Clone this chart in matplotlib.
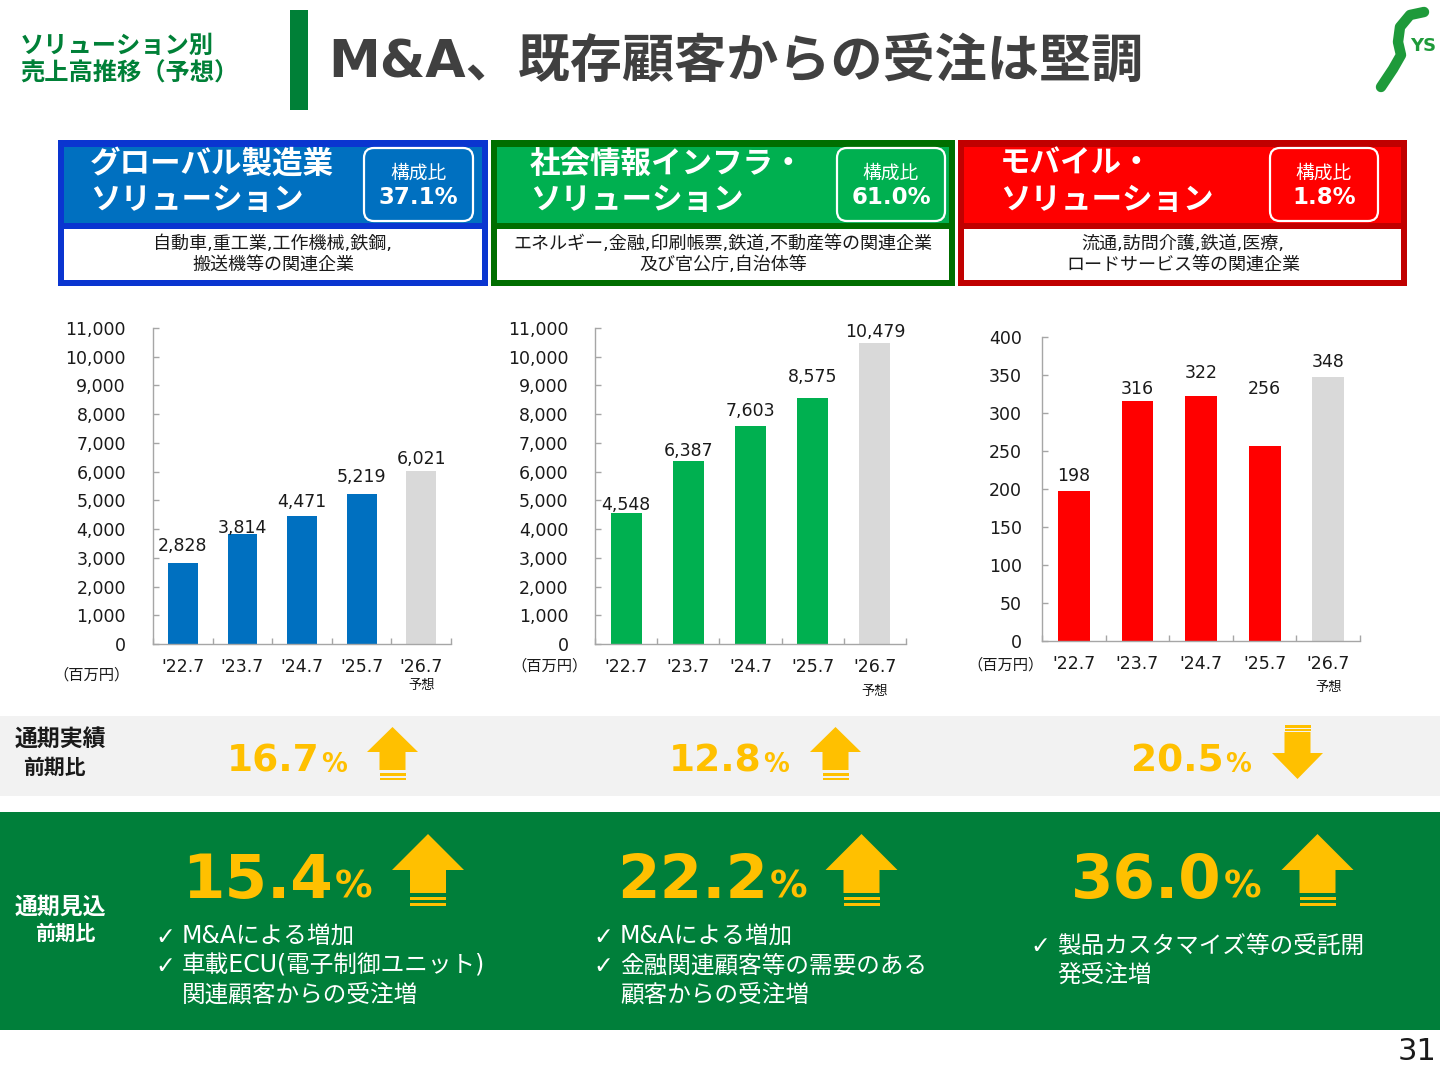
import numpy as np
import matplotlib
matplotlib.use('Agg')
import matplotlib.pyplot as plt
from matplotlib.patches import Rectangle, FancyBboxPatch, Polygon, PathPatch
from matplotlib.path import Path
from matplotlib.ticker import FuncFormatter

plt.rcParams['font.family'] = ['DejaVu Sans', 'Noto Sans CJK JP']

# ---- data -------------------------------------------------------------
years = ["'22.7", "'23.7", "'24.7", "'25.7", "'26.7"]
forecast_note = '予想'
unit_label = '（百万円）'

global_sales = [2828, 3814, 4471, 5219, 6021]
social_sales = [4548, 6387, 7603, 8575, 10479]
mobile_sales = [198, 316, 322, 256, 348]

segment_titles = [['グローバル製造業', 'ソリューション'],
                  ['社会情報インフラ・', 'ソリューション'],
                  ['モバイル・', 'ソリューション']]
segment_shares = ['37.1%', '61.0%', '1.8%']
segment_desc = [['自動車,重工業,工作機械,鉄鋼,', '搬送機等の関連企業'],
                ['エネルギー,金融,印刷帳票,鉄道,不動産等の関連企業', '及び官公庁,自治体等'],
                ['流通,訪問介護,鉄道,医療,', 'ロードサービス等の関連企業']]

actual_growth = ['16.7', '12.8', '20.5']
actual_dir = ['up', 'up', 'down']
plan_growth = ['15.4', '22.2', '36.0']
plan_notes = [[('✓', 'M&Aによる増加'), ('✓', '車載ECU(電子制御ユニット)'), ('', '関連顧客からの受注増')],
              [('✓', 'M&Aによる増加'), ('✓', '金融関連顧客等の需要のある'), ('', '顧客からの受注増')],
              [('✓', '製品カスタマイズ等の受託開'), ('', '発受注増')]]

# ---- style ------------------------------------------------------------
W, H = 1440, 1080
GREEN = '#008037'
BAND_GREEN = '#007f3a'
GOLD = '#ffc000'
FORECAST = '#d9d9d9'
AXIS = '#a6a6a6'
TXT = '#1a1a1a'

fig = plt.figure(figsize=(W / 100, H / 100), dpi=100)
ov = fig.add_axes([0, 0, 1, 1])
ov.set_xlim(0, W)
ov.set_ylim(H, 0)
ov.axis('off')

# ---- page header ------------------------------------------------------
ov.text(20, 46, 'ソリューション別', fontsize=17.5, fontweight='bold', color=GREEN, va='center')
ov.text(20, 74, '売上高推移（予想）', fontsize=17.5, fontweight='bold', color=GREEN, va='center')
ov.add_patch(Rectangle((290, 10), 18, 100, fc=GREEN, ec='none'))
ov.text(328, 63, 'M&A、既存顧客からの受注は堅調', fontsize=37.5, fontweight='bold',
        color='#404040', va='center')

# logo
logo = Path([(1424, 12), (1410, 15), (1400, 27), (1398, 42), (1401, 55), (1393, 69), (1381, 87)])
ov.add_patch(PathPatch(logo, fc='none', ec='#1e9a3a', lw=7.5, capstyle='round', joinstyle='round'))
ov.text(1410, 46, 'YS', fontsize=13, fontweight='bold', color='#1e9a3a', va='center')

# ---- segment boxes ----------------------------------------------------
boxes = [  # x0, x1, fill, border, title_x, share box x0, x1, desc centre
    (58, 488, '#0070c0', '#0a35d0', 90, 364, 473, 273),
    (491, 955, '#00b050', '#006e00', 530, 837, 945, 723),
    (958, 1407, '#ff0000', '#c00000', 1000, 1270, 1378, 1183),
]
for i, (x0, x1, fill, border, tx, bx0, bx1, dc) in enumerate(boxes):
    ov.add_patch(Rectangle((x0, 140), x1 - x0, 146, fc=border, ec='none'))
    ov.add_patch(Rectangle((x0 + 6, 147), x1 - x0 - 12, 76, fc=fill, ec='none'))
    ov.add_patch(Rectangle((x0 + 6, 229), x1 - x0 - 12, 51, fc='white', ec='none'))
    ov.text(tx, 164, segment_titles[i][0], fontsize=22, fontweight='bold', color='white', va='center')
    ov.text(tx, 201, segment_titles[i][1], fontsize=22, fontweight='bold', color='white', va='center')
    ov.add_patch(FancyBboxPatch((bx0 + 10, 158), bx1 - bx0 - 20, 53,
                                boxstyle='round,pad=10', fc=fill, ec='white', lw=1.6))
    cx = (bx0 + bx1) / 2
    ov.text(cx, 173, '構成比', fontsize=13.5, color='white', ha='center', va='center')
    ov.text(cx, 198, segment_shares[i], fontsize=16.5, fontweight='bold', color='white',
            ha='center', va='center')
    ov.text(dc, 244, segment_desc[i][0], fontsize=13, color=TXT, ha='center', va='center')
    ov.text(dc, 265, segment_desc[i][1], fontsize=13, color=TXT, ha='center', va='center')


# ---- bar panels -------------------------------------------------------
def bar_panel(rect, values, color, ymax, ystep, ypad, lift_px, note_px, unit_xy):
    x0, y0, x1, y1 = rect
    ax = fig.add_axes([x0 / W, 1 - y1 / H, (x1 - x0) / W, (y1 - y0) / H])
    ax.patch.set_alpha(0)
    x = np.arange(len(years))
    colors = [color] * (len(values) - 1) + [FORECAST]
    ax.bar(x, values, width=0.5, color=colors, zorder=2)
    ax.set_xlim(-0.5, len(years) - 0.5)
    ax.set_ylim(0, ymax)
    ax.set_yticks(np.arange(0, ymax + 1, ystep))
    ax.yaxis.set_major_formatter(FuncFormatter(lambda v, p: f'{v:,.0f}'))
    ax.set_xticks(x)
    ax.set_xticklabels(years)
    ax.set_xticks(np.arange(-0.5, len(years)), minor=True)
    for s in ('top', 'right'):
        ax.spines[s].set_visible(False)
    for s in ('left', 'bottom'):
        ax.spines[s].set_color(AXIS)
        ax.spines[s].set_linewidth(1.0)
    ax.tick_params(axis='y', direction='in', length=4, width=1, color=AXIS,
                   labelsize=12.5, labelcolor=TXT, pad=ypad)
    ax.tick_params(axis='x', which='major', length=0, labelsize=12.5, labelcolor=TXT, pad=10)
    ax.tick_params(axis='x', which='minor', direction='in', length=4, width=1, color=AXIS)
    for i, v in enumerate(values):
        ax.annotate(f'{v:,}', xy=(i, v), xytext=(0, lift_px[i] * 0.72), textcoords='offset points',
                    ha='center', va='baseline', fontsize=12.5, color=TXT)
    ax.annotate(forecast_note, xy=(len(years) - 1, 0), xycoords=('data', 'axes fraction'),
                xytext=(0, -note_px * 0.72), textcoords='offset points',
                ha='center', va='center', fontsize=9.5, color=TXT)
    ov.text(unit_xy[0], unit_xy[1], unit_label, fontsize=11, color=TXT, ha='center', va='center')
    return ax


bar_panel((153, 328, 451, 644), global_sales, '#0070c0', 11000, 1000, 19.5,
          [12, 1, 9, 12, 7], 41, (92, 675))
bar_panel((595, 328, 906, 644), social_sales, '#00b050', 11000, 1000, 19,
          [3, 5, 10, 16, 6], 48, (549, 666))
bar_panel((1042, 337, 1360, 641), mobile_sales, '#ff0000', 400, 50, 14.5,
          [10, 7, 18, 52, 10], 46, (1006, 665))


# ---- growth rows ------------------------------------------------------
def arrow(cx, tip, head_w, head_base, shaft_w, shaft_end, lines):
    hw, sw = head_w / 2, shaft_w / 2
    pts = [(cx, tip), (cx + hw, head_base), (cx + sw, head_base), (cx + sw, shaft_end),
           (cx - sw, shaft_end), (cx - sw, head_base), (cx - hw, head_base)]
    ov.add_patch(Polygon(pts, closed=True, fc=GOLD, ec='none'))
    for a, b in lines:
        ov.add_patch(Rectangle((cx - sw, a), shaft_w, b - a, fc=GOLD, ec='none'))


ov.add_patch(Rectangle((0, 716), W, 80, fc='#f2f2f2', ec='none'))
ov.text(15, 739, '通期実績', fontsize=16.5, fontweight='bold', color=TXT, va='center')
ov.text(23, 768, '前期比', fontsize=15, fontweight='bold', color=TXT, va='center')

small_num_right = [320, 762, 1224]
small_arrow_cx = [392.5, 835.5, 1297.5]
for i in range(3):
    ov.text(small_num_right[i], 772, actual_growth[i], fontsize=27, fontweight='bold',
            color=GOLD, ha='right', va='baseline')
    ov.text(small_num_right[i] + 1, 772, '%', fontsize=18.5, fontweight='bold',
            color=GOLD, ha='left', va='baseline')
    cx = small_arrow_cx[i]
    if actual_dir[i] == 'up':
        arrow(cx, 727, 51, 752, 26, 770, [(773, 775.5), (777.5, 780)])
    else:
        arrow(cx, 779, 51, 753, 26, 732, [(725, 727.5), (729, 731)])

ov.add_patch(Rectangle((0, 812), W, 218, fc=BAND_GREEN, ec='none'))
ov.text(15, 907, '通期見込', fontsize=16.5, fontweight='bold', color='white', va='center')
ov.text(35, 934, '前期比', fontsize=14.5, fontweight='bold', color='white', va='center')

big_num_right = [333, 768, 1222]
big_arrow_cx = [428, 861.5, 1317.5]
note_x = [155, 593, 1030]
note_y0 = [937, 937, 946]
for i in range(3):
    ov.text(big_num_right[i], 898, plan_growth[i], fontsize=44, fontweight='bold',
            color=GOLD, ha='right', va='baseline')
    ov.text(big_num_right[i] + 2, 898, '%', fontsize=27, fontweight='bold',
            color=GOLD, ha='left', va='baseline')
    arrow(big_arrow_cx[i], 834, 72, 870, 36, 893, [(897, 900), (903, 906)])
    for k, (mark, line) in enumerate(plan_notes[i]):
        y = note_y0[i] + 29 * k
        if mark:
            ov.text(note_x[i], y, mark, fontsize=17, color='white', va='center')
        ov.text(note_x[i] + 27, y, line, fontsize=17, color='white', va='center')

ov.text(1437, 1052, '31', fontsize=22, color=TXT, ha='right', va='center')

fig.savefig('out.png', dpi=100)
